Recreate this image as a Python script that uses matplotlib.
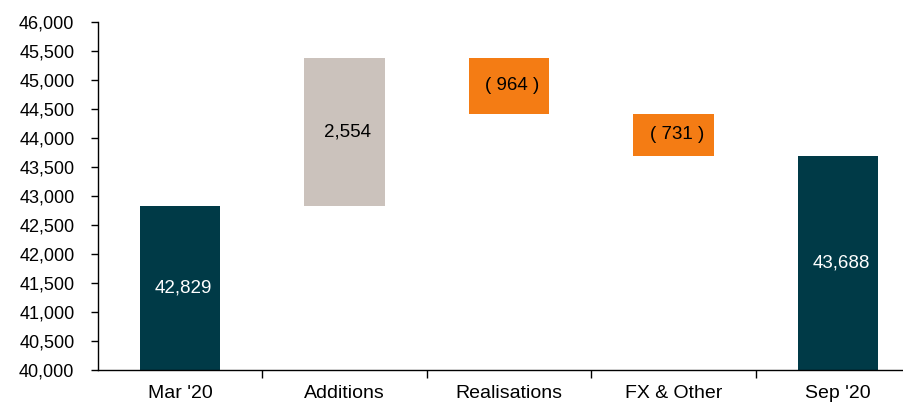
import matplotlib.pyplot as plt
from matplotlib.ticker import FuncFormatter, MultipleLocator
import numpy as np

plt.rcParams['font.family'] = ['Liberation Sans', 'DejaVu Sans']

categories = ["Mar '20", "Additions", "Realisations", "FX & Other", "Sep '20"]
start_value = 42829
changes = [2554, -964, -731]
end_value = 43688

teal = '#003a47'
grey = '#cbc2bc'
orange = '#f47c14'

# build waterfall bottoms/heights
bottoms = [40000]
heights = [start_value - 40000]
colors = [teal]
labels = ['{:,}'.format(start_value)]
label_colors = ['white']
running = start_value
for c in changes:
    if c >= 0:
        bottoms.append(running)
        heights.append(c)
        colors.append(grey)
        labels.append('{:,}'.format(c))
    else:
        bottoms.append(running + c)
        heights.append(-c)
        colors.append(orange)
        labels.append('( {:,} )'.format(-c))
    label_colors.append('black')
    running += c
bottoms.append(40000)
heights.append(end_value - 40000)
colors.append(teal)
labels.append('{:,}'.format(end_value))
label_colors.append('white')

fig = plt.figure(figsize=(9.04, 4.03), dpi=100)
ax = fig.add_axes([98 / 904, 1 - 370 / 403, 822 / 904, 348 / 403])

x = np.arange(len(categories))
ax.bar(x, heights, bottom=bottoms, width=0.49, color=colors)
for xi, b, h, t, tc in zip(x, bottoms, heights, labels, label_colors):
    ax.text(xi + 0.02, b + h / 2, t, ha='center', va='center', color=tc, fontsize=13.5)

ax.set_ylim(40000, 46000)
ax.set_xlim(-0.5, len(categories) - 0.5)
ax.yaxis.set_major_locator(MultipleLocator(500))
ax.yaxis.set_major_formatter(FuncFormatter(lambda v, p: '{:,.0f}'.format(v)))

ax.set_xticks(x)
ax.set_xticklabels(categories)
ax.set_xticks(np.arange(len(categories)) + 0.5, minor=True)
ax.tick_params(axis='x', which='major', length=0, labelsize=14, pad=11)
ax.tick_params(axis='x', which='minor', length=6, width=1, direction='out')
ax.tick_params(axis='y', length=5, width=1, direction='out', labelsize=13, pad=12)

for s in ['top', 'right']:
    ax.spines[s].set_visible(False)
ax.spines['left'].set_linewidth(1)
ax.spines['bottom'].set_linewidth(1)

fig.savefig('out.png', dpi=100)
